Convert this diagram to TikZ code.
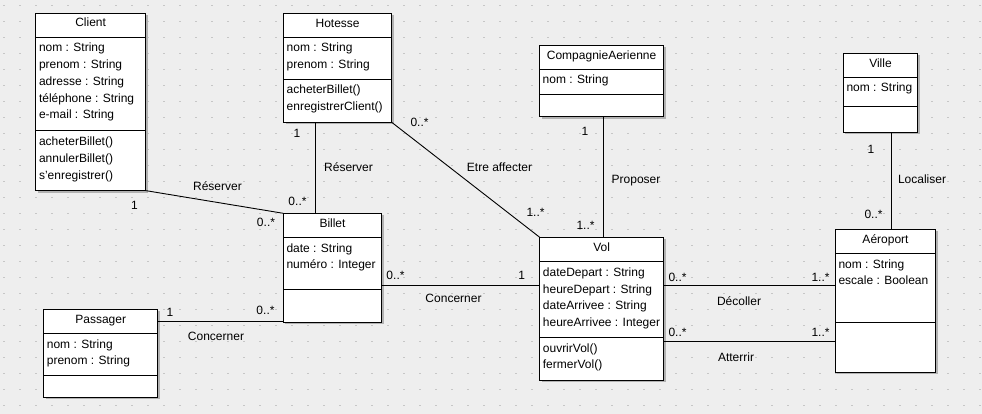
\documentclass[tikz,border=0pt]{standalone}
\usepackage{fontspec}
\setmainfont{Liberation Sans}
\usetikzlibrary{calc}
\definecolor{bgc}{RGB}{238,238,238}
\definecolor{dotc}{RGB}{198,198,198}
\definecolor{shc}{RGB}{178,178,178}
\newcommand{\umlcls}[7]{%
  \fill[shc] (#2+2,#3+2) rectangle (#4+2,#5+2);
  \pgfmathsetmacro{\umlw}{#4-#2}\pgfmathsetmacro{\umlh}{#5-#3}
  \node[cls, minimum width=\umlw pt, minimum height=\umlh pt] (#1) at (#2,#3) {};
  \draw[sepline] (#1.west |- 0,#6) -- (#1.east |- 0,#6);
  \draw[sepline] (#1.west |- 0,#7) -- (#1.east |- 0,#7);
}
\begin{document}
\begin{tikzpicture}[x=1pt,y=-1pt,
  every node/.style={font=\fontsize{12}{14}\selectfont},
  cls/.style={draw=black, fill=white, line width=1.2pt, inner sep=0pt, outer sep=0pt, anchor=north west},
  sepline/.style={line width=1pt},
  txt/.style={inner sep=0pt, text height=8.6pt, text depth=0pt},
  attr/.style={txt, anchor=west},
  assoc/.style={line width=0.9pt},
]
\fill[bgc] (0,0) rectangle (982,414);
\useasboundingbox (0,0) rectangle (982,414);
\foreach \i in {0,...,61}{
  \foreach \j in {0,...,25}{
    \fill[dotc] (3.4+16*\i,5.1+16*\j) rectangle ++(1.3,1.3);
  }
}

% class boxes
\umlcls{client}{35.6}{13.4}{145.6}{190.6}{37.3}{130.6}
\umlcls{hotesse}{283.5}{13.3}{391.7}{122.3}{37.3}{79.3}
\umlcls{comp}{539.5}{45.3}{663.7}{116.7}{69.3}{94.3}
\umlcls{ville}{843.3}{53.3}{917.7}{132.3}{77.3}{106.3}
\umlcls{billet}{283.3}{213.3}{381.7}{322.3}{237.3}{289.3}
\umlcls{passager}{43.7}{309.3}{157.7}{397.3}{333.3}{375.3}
\umlcls{vol}{539.7}{237.3}{663.7}{380.3}{261.7}{337.3}
\umlcls{aero}{835.3}{229.3}{935.7}{372.3}{253.3}{322.3}

% Client
\node[txt] (clientT) at (90.6,22.5) {Client};
\node[attr] (clientA1) at (38.8,47.7) {nom : String};
\node[attr] (clientA2) at (38.8,64.45) {prenom : String};
\node[attr] (clientA3) at (38.8,81.2) {adresse : String};
\node[attr] (clientA4) at (38.8,97.95) {téléphone : String};
\node[attr] (clientA5) at (38.8,114.7) {e-mail : String};
\node[attr] (clientO1) at (38.8,141.4) {acheterBillet()};
\node[attr] (clientO2) at (38.8,158.15) {annulerBillet()};
\node[attr] (clientO3) at (38.8,174.9) {s'enregistrer()};

% Hotesse
\node[txt] (hotT) at (337.6,22.8) {Hotesse};
\node[attr] (hotA1) at (286.5,47.7) {nom : String};
\node[attr] (hotA2) at (286.5,64.45) {prenom : String};
\node[attr] (hotO1) at (286.5,89.7) {acheterBillet()};
\node[attr] (hotO2) at (286.5,106.45) {enregistrerClient()};

% CompagnieAerienne
\node[txt] (compT) at (601.6,54.8) {CompagnieAerienne};
\node[attr] (compA1) at (542.5,79.7) {nom : String};

% Ville
\node[txt] (villeT) at (880.5,62.8) {Ville};
\node[attr] (villeA1) at (846.3,87.7) {nom : String};

% Billet
\node[txt] (billetT) at (332.5,222.8) {Billet};
\node[attr] (billetA1) at (286.3,247.7) {date : String};
\node[attr] (billetA2) at (286.3,264.45) {numéro : Integer};

% Passager
\node[txt] (passT) at (100.7,318.8) {Passager};
\node[attr] (passA1) at (46.7,343.7) {nom : String};
\node[attr] (passA2) at (46.7,360.45) {prenom : String};

% Vol
\node[txt] (volT) at (601.7,246.8) {Vol};
\node[attr] (volA1) at (542.7,272.1) {dateDepart : String};
\node[attr] (volA2) at (542.7,288.85) {heureDepart : String};
\node[attr] (volA3) at (542.7,305.6) {dateArrivee : String};
\node[attr] (volA4) at (542.7,322.35) {heureArrivee : Integer};
\node[attr] (volO1) at (542.7,347.7) {ouvrirVol()};
\node[attr] (volO2) at (542.7,364.45) {fermerVol()};

% Aeroport
\node[txt] (aeroT) at (885.5,238.8) {Aéroport};
\node[attr] (aeroA1) at (838.3,263.7) {nom : String};
\node[attr] (aeroA2) at (838.3,280.45) {escale : Boolean};

% associations
\draw[assoc] (client.south east) -- (billet.north west);
\draw[assoc] ([xshift=31.8pt]hotesse.south west) coordinate (hb) -- (hb |- billet.north);
\draw[assoc] (hotesse.south east) -- (vol.north west);
\draw[assoc] ([xshift=63.8pt]comp.south west) coordinate (cv) -- (cv |- vol.north);
\draw[assoc] ([xshift=48pt]ville.south west) coordinate (va) -- (va |- aero.north);
\draw[assoc] ([yshift=-72pt]billet.north east) coordinate (bv) -- (bv -| vol.west);
\draw[assoc] ([yshift=-12pt]passager.north east) coordinate (pb) -- (pb -| billet.west);
\draw[assoc] ([yshift=-48pt]vol.north east) coordinate (vd) -- (vd -| aero.west);
\draw[assoc] ([yshift=-104pt]vol.north east) coordinate (vt) -- (vt -| aero.west);

% labels
\node[txt] (l1) at (217.5,186) {Réserver};
\node[txt] (l1a) at (134.5,205) {1};
\node[txt] (l1b) at (266,222) {0..*};
\node[txt] (l2) at (348.5,167) {Réserver};
\node[txt] (l2a) at (297,133) {1};
\node[txt] (l2b) at (297.5,201.5) {0..*};
\node[txt] (l3) at (499.5,167) {Etre affecter};
\node[txt] (l3a) at (419.5,122) {0..*};
\node[txt] (l3b) at (535.5,212.5) {1..*};
\node[txt] (l4) at (636,179) {Proposer};
\node[txt] (l4a) at (585,131.5) {1};
\node[txt] (l4b) at (585.5,225.5) {1..*};
\node[txt] (l5) at (922,179.3) {Localiser};
\node[txt] (l5a) at (871,149.3) {1};
\node[txt] (l5b) at (873.5,214) {0..*};
\node[txt] (l6) at (453.5,297.7) {Concerner};
\node[txt] (l6a) at (395.5,275) {0..*};
\node[txt] (l6b) at (521.7,275) {1};
\node[txt] (l7) at (216,335.7) {Concerner};
\node[txt] (l7a) at (170,311.7) {1};
\node[txt] (l7b) at (265.5,310) {0..*};
\node[txt] (l8) at (739,300.7) {Décoller};
\node[txt] (l8a) at (677.5,276.7) {0..*};
\node[txt] (l8b) at (820.5,276.7) {1..*};
\node[txt] (l9) at (736,357.3) {Atterrir};
\node[txt] (l9a) at (677.5,331.7) {0..*};
\node[txt] (l9b) at (820.5,331.7) {1..*};
\end{tikzpicture}
\end{document}
